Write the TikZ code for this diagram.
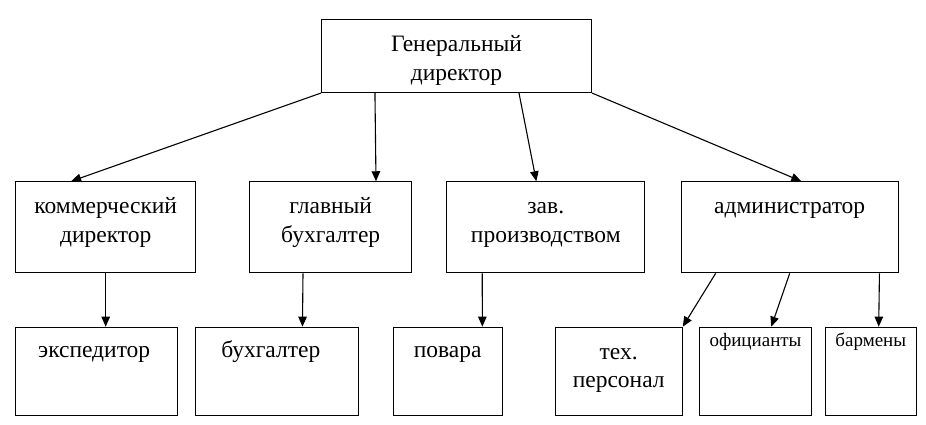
\documentclass[tikz,border=0pt]{standalone}
\usepackage{fontspec}
\setmainfont{Liberation Serif}
\usetikzlibrary{positioning,arrows.meta}

\begin{document}
\begin{tikzpicture}[x=1pt,y=-1pt,line width=1.1pt]
\tikzstyle{box}=[rectangle,draw=black,minimum height=91pt,inner sep=0pt]
\tikzstyle{boxlow}=[box,minimum height=88pt]
\tikzstyle{txt}=[align=center,inner sep=0pt,font=\fontsize{23.5}{29}\selectfont]
\tikzstyle{txts}=[txt,font=\fontsize{19}{22}\selectfont]
\tikzstyle{arr}=[-{Triangle[length=10pt,width=8.5pt]}]
\useasboundingbox (0,0) rectangle (926,424);
% boxes
\node (gd) [box,minimum width=270pt,minimum height=73pt] at (456.5,56) {};
\node (kd) [box,minimum width=180pt] at (105.7,227.3) {};
\node (gb) [box,minimum width=162pt] at (330.7,227.3) {};
\node (zp) [box,minimum width=198pt] at (545.8,227.3) {};
\node (adm) [box,minimum width=217pt] at (789.7,227.3) {};
\node (exp) [boxlow,minimum width=162pt] at (96.7,371.2) {};
\node (buh) [boxlow,minimum width=163pt] at (276.8,371.2) {};
\node (pov) [boxlow,minimum width=109pt] at (447.7,371.2) {};
\node (teh) [boxlow,minimum width=127pt] at (618.7,371.2) {};
\node (ofc) [boxlow,minimum width=112pt] at (755.5,371.2) {};
\node (bar) [boxlow,minimum width=91pt] at (870.8,371.2) {};
% texts
\node (gdt) [txt,below=11.4pt of gd.north] {\strut Генеральный\\директор};
\node (kdt) [txt,below=11.3pt of kd.north] {\strut коммерческий\\директор};
\node (gbt) [txt,below=11.3pt of gb.north] {\strut главный\\бухгалтер};
\node (zpt) [txt,below=11.3pt of zp.north] {\strut зав.\\производством};
\node (admt) [txt,below=11.3pt of adm.north] {\strut администратор};
\node (expt) [txt,below=9.7pt of exp.north,xshift=-2.5pt] {\strut экспедитор};
\node (buht) [txt,below=9.7pt of buh.north,xshift=-6pt] {\strut бухгалтер};
\node (povt) [txt,below=9.7pt of pov.north] {\strut повара};
\node (teht) [txt,below=12.4pt of teh.north,font=\fontsize{23.5}{28}\selectfont] {\strut тех.\\персонал};
\node (ofct) [txts,below=3.6pt of ofc.north] {\strut официанты};
\node (bart) [txts,below=3.6pt of bar.north] {\strut бармены};
% arrows
\draw[arr] (gd.south west) -- ([xshift=56pt]kd.north west);
\draw[arr] ([xshift=54pt]gd.south west) -- ([xshift=45.3pt]gb.north);
\draw[arr] ([xshift=62.5pt]gd.south) -- ([xshift=-9.5pt]zp.north);
\draw[arr] (gd.south east) -- ([xshift=11.6pt]adm.north);
\draw[arr] (kd.south) -- (kd.south |- exp.north);
\draw[arr] ([xshift=-27.7pt]gb.south) -- ([xshift=107.7pt]buh.north west);
\draw[arr] ([xshift=36pt]zp.south west) -- ([xshift=89.7pt]pov.north west);
\draw[arr] ([xshift=35pt]adm.south west) -- (teh.north east);
\draw[arr] (adm.south) -- ([xshift=15.8pt]ofc.north);
\draw[arr] ([xshift=-19.3pt]adm.south east) -- ([xshift=7.9pt]bar.north);
\end{tikzpicture}
\end{document}
